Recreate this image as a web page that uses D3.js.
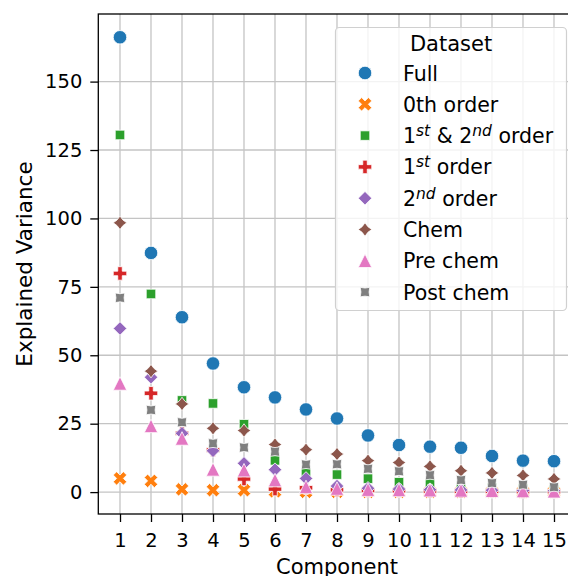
<!DOCTYPE html>
<html>
<head>
<meta charset="utf-8">
<script src="https://cdn.jsdelivr.net/npm/d3@7"></script>
<style>
	body { margin: 0; background: #fff; }
	svg { font-family: "DejaVu Sans", sans-serif; display: block; }
</style>
</head>
<body>
<div id="chart"></div>
<script>
const components = [1, 2, 3, 4, 5, 6, 7, 8, 9, 10, 11, 12, 13, 14, 15];
const yTicks = [0, 25, 50, 75, 100, 125, 150];

const full = [166.2, 87.4, 63.9, 47.0, 38.3, 34.6, 30.2, 26.9, 20.7, 17.2, 16.6, 16.2, 13.2, 11.5, 11.3];
const zeroth = [5.0, 4.1, 1.0, 0.7, 0.7, 0.3, 0.1, 0.1, 0.1, 0.1, 0.1, 0.1, 0.1, 0.1, 0.1];
const firstSecond = [130.5, 72.4, 33.5, 32.4, 24.8, 11.6, 7.1, 6.4, 4.9, 3.6, 3.2, 2.0, 1.5, 1.2, 1.0];
const firstOrder = [79.9, 36.1, 21.5, 15.4, 4.8, 1.1, 1.6, 0.8, 0.6, 0.5, 0.4, 0.3, 0.3, 0.2, 0.2];
const secondOrder = [59.8, 42.0, 21.5, 15.1, 10.5, 8.2, 5.0, 2.2, 1.4, 1.1, 0.9, 0.8, 0.7, 0.6, 0.5];
const chem = [98.4, 44.2, 32.2, 23.3, 22.5, 17.4, 15.5, 13.9, 11.5, 10.8, 9.4, 7.8, 7.0, 6.1, 4.8];
const preChem = [39.7, 24.2, 19.6, 8.3, 8.0, 4.4, 1.9, 1.3, 0.9, 0.8, 0.7, 0.6, 0.5, 0.4, 0.3];
const postChem = [71.0, 30.0, 25.5, 17.8, 16.3, 14.8, 10.1, 10.2, 8.5, 7.6, 6.2, 4.4, 3.3, 2.7, 1.8];

const seriesLabels = ["Full", "0th order", "1^{st} & 2^{nd} order", "1^{st} order", "2^{nd} order", "Chem", "Pre chem", "Post chem"];
const seriesValues = [full, zeroth, firstSecond, firstOrder, secondOrder, chem, preChem, postChem];
const colors = ["#1f77b4", "#ff7f0e", "#2ca02c", "#d62728", "#9467bd", "#8c564b", "#e377c2", "#7f7f7f"];

const WIDTH = 568, HEIGHT = 576;
const S = 13.5; // marker size px
const STAR_INNER = 0.6;

// marker outlines, unit size, y up (matplotlib style)
function regular(n, rot, inner) {
	const count = inner ? 2 * n : n;
	const pts = [];
	for (let i = 0; i < count; i++) {
		const a = Math.PI / 2 + (2 * Math.PI * i) / count + (rot * Math.PI) / 180;
		const r = inner && i % 2 ? 0.5 * inner : 0.5;
		pts.push([r * Math.cos(a), r * Math.sin(a)]);
	}
	return pts;
}
const xFilled = [[-1, -2], [0, -1], [1, -2], [2, -1], [1, 0], [2, 1], [1, 2], [0, 1], [-1, 2], [-2, 1], [-1, 0], [-2, -1]].map((p) => [p[0] / 4, p[1] / 4]);
const plusFilled = [[-1, -3], [1, -3], [1, -1], [3, -1], [3, 1], [1, 1], [1, 3], [-1, 3], [-1, 1], [-3, 1], [-3, -1], [-1, -1]].map((p) => [p[0] / 6, p[1] / 6]);
const triangle = [[0, 0.5], [-0.5, -0.5], [0.5, -0.5]];

function polyPath(pts) {
	return "M" + pts.map((p) => `${(p[0] * S).toFixed(2)},${(-p[1] * S).toFixed(2)}`).join("L") + "Z";
}
function circlePath() {
	const r = S / 2;
	return `M${r},0A${r},${r} 0 1,1 ${-r},0A${r},${r} 0 1,1 ${r},0Z`;
}
const markers = [
	circlePath(),
	polyPath(xFilled),
	polyPath(regular(4, 45)),
	polyPath(plusFilled),
	polyPath(regular(4, 0)),
	polyPath(regular(4, 0, STAR_INNER)),
	polyPath(triangle),
	polyPath(regular(4, 45, STAR_INNER)),
];

const svg = d3.select("#chart").append("svg")
	.attr("width", WIDTH)
	.attr("height", HEIGHT)
	.attr("viewBox", `0 0 ${WIDTH} ${HEIGHT}`);

const xScale = d3.scaleLinear().domain([0.3, 15.7]).range([98.3, 575.7]);
const yScale = d3.scaleLinear().domain([-8.0, 174.7]).range([514, 14]);
const [x0, x1] = xScale.range();
const [yb, yt] = yScale.range();

// grid
const grid = svg.append("g").attr("class", "grid").attr("stroke", "#c4c4c4").attr("stroke-width", 1.3);
grid.selectAll("line.v").data(components).join("line")
	.attr("class", "v")
	.attr("x1", (d) => xScale(d)).attr("x2", (d) => xScale(d))
	.attr("y1", yt).attr("y2", yb);
grid.selectAll("line.h").data(yTicks).join("line")
	.attr("class", "h")
	.attr("x1", x0).attr("x2", x1)
	.attr("y1", (d) => yScale(d)).attr("y2", (d) => yScale(d));

// points
const rows = [];
seriesValues.forEach((vals, s) => {
	vals.forEach((v, i) => rows.push({ s, comp: components[i], v }));
});
svg.append("g").attr("class", "points")
	.selectAll("path").data(rows).join("path")
	.attr("transform", (d) => `translate(${xScale(d.comp)},${yScale(d.v)})`)
	.attr("d", (d) => markers[d.s])
	.attr("fill", (d) => colors[d.s])
	.attr("stroke", "#fff")
	.attr("stroke-width", 0.8);

// axes
const xAxis = svg.append("g").attr("transform", `translate(0,${yb})`)
	.call(d3.axisBottom(xScale).tickValues(components).tickSize(8).tickPadding(11).tickSizeOuter(0));
const yAxis = svg.append("g").attr("transform", `translate(${x0},0)`)
	.call(d3.axisLeft(yScale).tickValues(yTicks).tickSize(8).tickPadding(8).tickSizeOuter(0));
[xAxis, yAxis].forEach((g) => {
	g.select(".domain").remove();
	g.selectAll(".tick line").attr("stroke", "#000").attr("stroke-width", 1.3);
	g.selectAll(".tick text").attr("fill", "#000").attr("font-size", 19.5).attr("font-family", "DejaVu Sans");
});

// spines
svg.append("rect")
	.attr("x", x0).attr("y", yt)
	.attr("width", x1 - x0).attr("height", yb - yt)
	.attr("fill", "none").attr("stroke", "#000").attr("stroke-width", 1.3);

svg.append("text")
	.attr("x", (x0 + x1) / 2).attr("y", 574)
	.attr("text-anchor", "middle").attr("font-size", 21).attr("fill", "#000")
	.text("Component");
svg.append("text")
	.attr("transform", `translate(32,${(yt + yb) / 2}) rotate(-90)`)
	.attr("text-anchor", "middle").attr("font-size", 21.5).attr("fill", "#000")
	.text("Explained Variance");

// legend
const legend = svg.append("g").attr("class", "legend");
legend.append("rect")
	.attr("x", 335.5).attr("y", 27.5).attr("width", 231).attr("height", 283).attr("rx", 4)
	.attr("fill", "#fff").attr("fill-opacity", 0.8)
	.attr("stroke", "#d0d0d0").attr("stroke-width", 1.2);
legend.append("text")
	.attr("x", 451).attr("y", 51)
	.attr("text-anchor", "middle").attr("font-size", 21).attr("fill", "#000")
	.text("Dataset");

const LEG_FS = 20.5, SUP_FS = 15.5, SUP_SHIFT = 7;
const items = legend.selectAll("g.item").data(seriesLabels).join("g")
	.attr("class", "item")
	.attr("transform", (d, i) => `translate(0,${73 + i * 31.3})`);
items.append("path")
	.attr("transform", "translate(365,0)")
	.attr("d", (d, i) => markers[i])
	.attr("fill", (d, i) => colors[i])
	.attr("stroke", "#fff").attr("stroke-width", 0.8);
items.each(function (label) {
	const t = d3.select(this).append("text")
		.attr("x", 403).attr("y", 7.5)
		.attr("font-size", LEG_FS).attr("fill", "#000");
	const parts = label.split(/(\^\{[^}]*\})/).filter((p) => p.length);
	let raised = false;
	parts.forEach((p) => {
		if (p.startsWith("^{")) {
			t.append("tspan").attr("font-size", SUP_FS).attr("font-style", "italic")
				.attr("dy", -SUP_SHIFT).text(p.slice(2, -1));
			raised = true;
		} else {
			const sp = t.append("tspan").text(p.replace(/ /g, "\u00a0"));
			if (raised) sp.attr("dy", SUP_SHIFT);
			raised = false;
		}
	});
});
</script>
</body>
</html>
